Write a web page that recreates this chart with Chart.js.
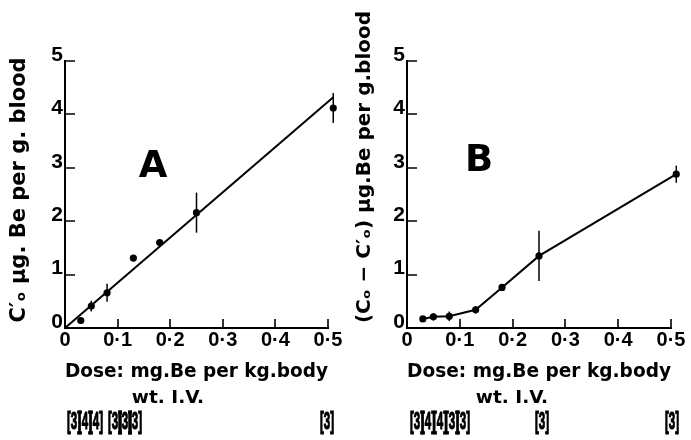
<!DOCTYPE html>
<html>
<head>
<meta charset="utf-8">
<script src="https://cdn.jsdelivr.net/npm/chart.js@4.4.1/dist/chart.umd.min.js"></script>
<style>
  html, body { margin: 0; padding: 0; background: #fff; }
  #wrap { position: relative; width: 691px; height: 440px; overflow: hidden; }
  #panelA { position: absolute; left: 0; top: 0; }
  #panelB { position: absolute; left: 345px; top: 0; }
</style>
</head>
<body>
<div id="wrap">
  <canvas id="panelA" width="345" height="440"></canvas>
  <canvas id="panelB" width="346" height="440"></canvas>
</div>
<script>
// Panel A: C'o against dose, with fitted line through the origin
const doseA = [0.03, 0.05, 0.08, 0.13, 0.18, 0.25, 0.51];
const concA = [0.14, 0.41, 0.66, 1.31, 1.60, 2.16, 4.12];
const errA = [0, 0.10, 0.17, 0, 0, 0.375, 0.28];
const fitDoseA = [0, 0.51];
const fitConcA = [0, 4.32];
const countsA = [3, 4, 4, 3, 3, 3, 3];

// Panel B: (Co - C'o) against dose, points joined
const doseB = [0.03, 0.05, 0.08, 0.13, 0.18, 0.25, 0.51];
const diffB = [0.17, 0.21, 0.22, 0.34, 0.76, 1.35, 2.88];
const errB = [0, 0.07, 0.09, 0.07, 0, 0.47, 0.16];
const countsB = [3, 4, 4, 3, 3, 3, 3];

// Axis ticks
const doseTicks = [0, 0.1, 0.2, 0.3, 0.4, 0.5];
const doseTickLabels = ['0', '0·1', '0·2', '0·3', '0·4', '0·5'];
const bloodTicks = [0, 1, 2, 3, 4, 5];
const bloodTickLabels = ['0', '1', '2', '3', '4', '5'];

const TITLE_FONT = '"DejaVu Sans", sans-serif';
const TICK_FONT = '"Liberation Sans", Arial, sans-serif';

const toPoints = (xs, ys) => xs.map((x, i) => ({ x, y: ys[i] }));

// Inward ticks, error bars and the extra text of each panel
const panelDecor = {
    id: 'panelDecor',
    afterDatasetsDraw(chart, args, opts) {
        if (!opts || !opts.letter) return;
        const { ctx, chartArea } = chart;
        const xs = chart.scales.x;
        const ys = chart.scales.y;
        ctx.save();
        ctx.strokeStyle = '#000';
        ctx.fillStyle = '#000';

        // ticks pointing into the plot
        ctx.lineWidth = 1.6;
        ctx.beginPath();
        xs.ticks.forEach(t => {
            if (t.value === 0) return;
            const px = Math.round(xs.getPixelForValue(t.value));
            ctx.moveTo(px, chartArea.bottom);
            ctx.lineTo(px, chartArea.bottom - 9);
        });
        ys.ticks.forEach(t => {
            if (t.value === 0) return;
            const py = Math.round(ys.getPixelForValue(t.value));
            ctx.moveTo(chartArea.left, py);
            ctx.lineTo(chartArea.left + 10, py);
        });
        ctx.stroke();

        // vertical error bars
        ctx.lineWidth = 1.5;
        chart.data.datasets.forEach(ds => {
            if (!ds.errorBars) return;
            ds.data.forEach((p, i) => {
                const e = ds.errorBars[i];
                if (!e) return;
                const px = xs.getPixelForValue(p.x);
                ctx.beginPath();
                ctx.moveTo(px, ys.getPixelForValue(p.y - e));
                ctx.lineTo(px, ys.getPixelForValue(p.y + e));
                ctx.stroke();
            });
        });

        // panel letter
        ctx.font = 'bold 37px ' + TITLE_FONT;
        ctx.textAlign = 'center';
        ctx.textBaseline = 'middle';
        ctx.fillText(opts.letter, opts.letterX, opts.letterY);

        // y axis title, rotated
        ctx.save();
        ctx.translate(opts.yTitleX, opts.yTitleY);
        ctx.rotate(-Math.PI / 2);
        ctx.font = 'bold ' + opts.yTitleSize + 'px ' + TITLE_FONT;
        ctx.fillText(opts.yTitle, 0, 0);
        ctx.restore();

        // second line of the x title
        ctx.font = 'bold 18.5px ' + TITLE_FONT;
        ctx.fillText('wt. I.V.', opts.subX, opts.subY);

        // number of animals, in brackets (narrow, tightly set)
        ctx.font = 'bold 23px ' + TICK_FONT;
        ctx.lineWidth = 1.2;
        opts.counts.forEach((n, i) => {
            ctx.save();
            ctx.translate(chartArea.left + opts.countOffsets[i], opts.countY);
            ctx.scale(0.5, 1);
            ctx.fillText('[' + n + ']', 0, 0);
            ctx.strokeText('[' + n + ']', 0, 0);
            ctx.restore();
        });
        ctx.restore();
    }
};
Chart.register(panelDecor);

function makeScales(chartLeft) {
    return {
        x: {
            type: 'linear',
            min: 0,
            max: 0.5,
            afterBuildTicks: s => { s.ticks = doseTicks.map(v => ({ value: v })); },
            afterFit: s => { s.height = 440 - 328; },
            grid: { drawOnChartArea: false, drawTicks: false },
            border: { color: '#000', width: 2 },
            ticks: {
                padding: 0,
                color: '#000',
                font: { family: TICK_FONT, size: 20, weight: 'bold' },
                callback: v => doseTickLabels[doseTicks.indexOf(+v.toFixed(1))]
            },
            title: {
                display: true,
                text: 'Dose: mg.Be per kg.body',
                color: '#000',
                font: { family: TITLE_FONT, size: 18.8, weight: 'bold' },
                padding: { top: 0, bottom: 57 }
            }
        },
        y: {
            type: 'linear',
            min: 0,
            max: 5,
            afterBuildTicks: s => { s.ticks = bloodTicks.map(v => ({ value: v })); },
            afterFit: s => { s.width = chartLeft; },
            grid: { drawOnChartArea: false, drawTicks: false },
            border: { color: '#000', width: 2 },
            ticks: {
                padding: 2,
                labelOffset: -6,
                color: '#000',
                font: { family: TICK_FONT, size: 21, weight: 'bold' },
                callback: v => bloodTickLabels[bloodTicks.indexOf(v)]
            }
        }
    };
}

const baseOptions = (chartLeft, rightPad, decor) => ({
    responsive: false,
    animation: false,
    devicePixelRatio: 1,
    layout: { padding: { left: 0, top: 61, right: rightPad, bottom: 0 } },
    scales: makeScales(chartLeft),
    plugins: {
        legend: { display: false },
        tooltip: { enabled: false },
        panelDecor: decor
    }
});

// a transparent point border widens the area check so the 0.51 dose point
// (just past the end of the axis) is still drawn
const pointStyle = {
    pointRadius: 3.6,
    pointHoverRadius: 3.6,
    pointBackgroundColor: '#000',
    pointBorderColor: 'rgba(0,0,0,0)',
    pointBorderWidth: 5,
    clip: false
};

new Chart(document.getElementById('panelA'), {
    type: 'scatter',
    data: {
        datasets: [
            {
                data: toPoints(doseA, concA),
                errorBars: errA,
                showLine: false,
                ...pointStyle
            },
            {
                data: toPoints(fitDoseA, fitConcA),
                showLine: true,
                borderColor: '#000',
                borderWidth: 2,
                pointRadius: 0,
                clip: false
            }
        ]
    },
    options: baseOptions(65, 17, {
        letter: 'A', letterX: 153, letterY: 167,
        yTitle: 'C\u2032\u2092 \u00b5g. Be per g. blood', yTitleSize: 21, yTitleX: 20, yTitleY: 190,
        subX: 168, subY: 398,
        counts: countsA,
        countOffsets: [9, 20, 31, 50, 60, 70, 262],
        countY: 423
    })
});

new Chart(document.getElementById('panelB'), {
    type: 'scatter',
    data: {
        datasets: [
            {
                data: toPoints(doseB, diffB),
                errorBars: errB,
                showLine: true,
                borderColor: '#000',
                borderWidth: 2,
                ...pointStyle
            }
        ]
    },
    options: baseOptions(62, 20, {
        letter: 'B', letterX: 134, letterY: 161,
        yTitle: '(C\u2092 \u2212 C\u2032\u2092) \u00b5g.Be per g.blood', yTitleSize: 20, yTitleX: 20, yTitleY: 167,
        subX: 167, subY: 398,
        counts: countsB,
        countOffsets: [10, 21, 33, 45, 56, 135, 265],
        countY: 423
    })
});
</script>
</body>
</html>
